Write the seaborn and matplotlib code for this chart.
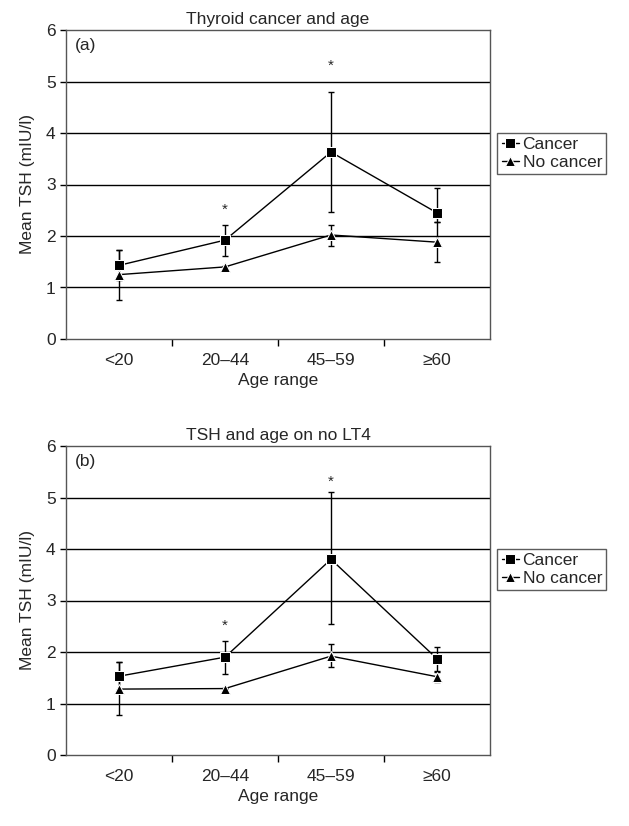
import numpy as np
import pandas as pd
import matplotlib
matplotlib.use('Agg')
import matplotlib.pyplot as plt
import seaborn as sns

# Values
age_ranges = ['<20', '20\u201344', '45\u201359', '\u226560']

a_cancer = [1.43, 1.92, 3.63, 2.45]
a_cancer_lo = [1.15, 1.62, 2.47, 2.27]
a_cancer_hi = [1.73, 2.22, 4.80, 2.93]
a_nocancer = [1.25, 1.40, 2.02, 1.88]
a_nocancer_lo = [0.75, 1.38, 1.80, 1.50]
a_nocancer_hi = [1.72, 1.42, 2.22, 2.27]

b_cancer = [1.53, 1.90, 3.80, 1.87]
b_cancer_lo = [1.26, 1.58, 2.55, 1.63]
b_cancer_hi = [1.80, 2.22, 5.10, 2.10]
b_nocancer = [1.28, 1.29, 1.92, 1.52]
b_nocancer_lo = [0.77, 1.28, 1.70, 1.42]
b_nocancer_hi = [1.80, 1.30, 2.15, 1.62]

star_positions = [1, 2]
a_star_y = [2.5, 5.3]
b_star_y = [2.5, 5.3]

titles = ['Thyroid cancer and age', 'TSH and age on no LT4']
panel_labels = ['(a)', '(b)']

sns.set_style('white')
plt.rcParams['font.family'] = ['Liberation Sans', 'DejaVu Sans']
FS = 12.5

fig = plt.figure(figsize=(6.29, 8.26), dpi=100)
W, H = 629, 826
ax_a = fig.add_axes([66 / W, 1 - 339 / H, 424 / W, 309 / H])
ax_b = fig.add_axes([66 / W, 1 - 755 / H, 424 / W, 309 / H])

panels = [
    (ax_a, a_cancer, a_cancer_lo, a_cancer_hi, a_nocancer, a_nocancer_lo, a_nocancer_hi, a_star_y),
    (ax_b, b_cancer, b_cancer_lo, b_cancer_hi, b_nocancer, b_nocancer_lo, b_nocancer_hi, b_star_y),
]

x = np.arange(len(age_ranges))
for i, (ax, c, clo, chi, n, nlo, nhi, sy) in enumerate(panels):
    df = pd.DataFrame({
        'x': np.concatenate([x, x]),
        'TSH': c + n,
        'Group': ['Cancer'] * 4 + ['No cancer'] * 4,
    })
    for y in range(1, 6):
        ax.axhline(y, color='black', lw=1.0, zorder=0)
    sns.lineplot(data=df, x='x', y='TSH', hue='Group', style='Group',
                 markers={'Cancer': 's', 'No cancer': '^'}, dashes=False,
                 palette={'Cancer': 'black', 'No cancer': 'black'},
                 markersize=6.5, lw=1.0, ax=ax, legend=True, zorder=3)
    c = np.array(c); n = np.array(n)
    ax.errorbar(x, c, yerr=[c - np.array(clo), np.array(chi) - c], fmt='none',
                ecolor='black', elinewidth=1.0, capsize=2.5, capthick=1.0, zorder=2)
    ax.errorbar(x, n, yerr=[n - np.array(nlo), np.array(nhi) - n], fmt='none',
                ecolor='black', elinewidth=1.0, capsize=2.5, capthick=1.0, zorder=2)
    for sx, syy in zip(star_positions, sy):
        ax.text(sx, syy, '*', ha='center', va='center', fontsize=11)
    ax.set_xlim(-0.5, 3.5)
    ax.set_ylim(0, 6)
    ax.set_yticks(range(0, 7))
    ax.set_xticks(x)
    ax.set_xticklabels(age_ranges, fontsize=FS)
    ax.set_xticks([0.5, 1.5, 2.5], minor=True)
    ax.tick_params(axis='x', which='major', bottom=True, length=0, pad=10)
    ax.tick_params(axis='x', which='minor', bottom=True, length=5, width=1.0,
                   direction='out', color='black')
    ax.tick_params(axis='y', left=True, length=4, width=1.0, direction='out',
                   color='black', labelsize=FS)
    ax.set_xlabel('Age range', fontsize=FS, labelpad=4)
    ax.set_ylabel('Mean TSH (mIU/l)', fontsize=FS, labelpad=8)
    ax.set_title(titles[i], fontsize=FS, pad=4)
    ax.text(0.02, 0.975, panel_labels[i], transform=ax.transAxes, ha='left', va='top', fontsize=FS)
    for sp in ax.spines.values():
        sp.set_color('#555555')
        sp.set_linewidth(1.0)
    leg = ax.legend(loc='center left', bbox_to_anchor=(1.005, 0.60), frameon=True,
                    fancybox=False, edgecolor='#333333', fontsize=FS, handlelength=1.0,
                    handletextpad=0.2, borderpad=0.25, labelspacing=0.15,
                    borderaxespad=0.3)
    leg.get_frame().set_linewidth(1.0)

fig.savefig('out.png', dpi=100)
